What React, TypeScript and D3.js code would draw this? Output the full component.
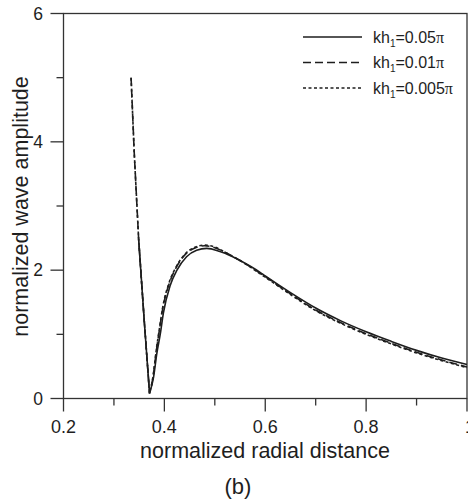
import React from "react";
import * as d3 from "d3";

const W = 468;
const H = 503;

// x tick values
const xMajorTicks = [0.2, 0.4, 0.6, 0.8, 1.0];
const xMajorLabels = ["0.2", "0.4", "0.6", "0.8", "1"];
const xMinorTicks = [0.3, 0.5, 0.7, 0.9];
const yMajorTicks = [0, 2, 4, 6];
const yMajorLabels = ["0", "2", "4", "6"];
const yMinorTicks = [1, 3, 5];

// kh1 = 0.05π (solid)
const solidX = [0.349, 0.36, 0.3706, 0.3785, 0.385, 0.392, 0.398, 0.4115, 0.425, 0.444, 0.464, 0.484, 0.51, 0.53, 0.55, 0.589, 0.6, 0.65, 0.7, 0.75, 0.8, 0.85, 0.9, 0.95, 1.0];
const solidY = [2.48, 1.22, 0.08, 0.33, 0.7, 1.01, 1.33, 1.76, 2.0, 2.21, 2.31, 2.34, 2.29, 2.23, 2.15, 1.97, 1.91, 1.65, 1.41, 1.21, 1.04, 0.89, 0.75, 0.63, 0.53];

// kh1 = 0.01π (dashed)
const dashedX = [0.334, 0.3403, 0.349, 0.36, 0.3706, 0.378, 0.384, 0.39, 0.396, 0.41, 0.424, 0.442, 0.462, 0.48, 0.5, 0.52, 0.55, 0.6, 0.65, 0.7, 0.75, 0.8, 0.85, 0.9, 0.95, 1.0];
const dashedY = [5.0, 3.82, 2.48, 1.22, 0.08, 0.36, 0.74, 1.06, 1.37, 1.8, 2.05, 2.25, 2.35, 2.38, 2.35, 2.28, 2.15, 1.9, 1.63, 1.38, 1.18, 1.01, 0.86, 0.72, 0.6, 0.49];

// kh1 = 0.005π (dotted)
const dottedX = [0.334, 0.3403, 0.349, 0.36, 0.3706, 0.378, 0.384, 0.39, 0.396, 0.41, 0.424, 0.442, 0.462, 0.48, 0.5, 0.52, 0.55, 0.6, 0.65, 0.7, 0.75, 0.8, 0.85, 0.9, 0.95, 1.0];
const dottedY = [5.0, 3.82, 2.48, 1.22, 0.08, 0.37, 0.76, 1.08, 1.39, 1.82, 2.06, 2.26, 2.36, 2.39, 2.36, 2.28, 2.15, 1.89, 1.62, 1.37, 1.17, 1.0, 0.85, 0.71, 0.59, 0.48];

const seriesLabels = ["0.05", "0.01", "0.005"];

const x = d3.scaleLinear().domain([0.2, 1.0]).range([63.5, 467]);
const y = d3.scaleLinear().domain([0, 6]).range([398.5, 13.5]);

type P = [number, number];

function buildPath(xs: number[], ys: number[]): string {
  const pts: P[] = xs.map((v, i) => [v, ys[i]]);
  let minI = 0;
  pts.forEach((p, i) => {
    if (p[1] < pts[minI][1]) minI = i;
  });
  const desc = pts.slice(0, minI + 1);
  const rise = pts.slice(minI);
  const lin = d3
    .line<P>()
    .x((d) => x(d[0]))
    .y((d) => y(d[1]))
    .curve(d3.curveLinear);
  const mono = d3
    .line<P>()
    .x((d) => x(d[0]))
    .y((d) => y(d[1]))
    .curve(d3.curveMonotoneX);
  const a = lin(desc) || "";
  const b = (mono(rise) || "").replace(/^M/, "L");
  return a + b;
}

const FONT = "Arial, 'Liberation Sans', Helvetica, sans-serif";
const INK = "#1e1e1e";
const AX = "#333";

export default function App() {
  const series = [
    { xs: solidX, ys: solidY, dash: "none", label: seriesLabels[0] },
    { xs: dashedX, ys: dashedY, dash: "8,4", label: seriesLabels[1] },
    { xs: dottedX, ys: dottedY, dash: "3,2.5", label: seriesLabels[2] },
  ];
  const x0 = x.range()[0];
  const x1 = x.range()[1];
  const y0 = y.range()[0];
  const y1 = y.range()[1];
  return (
    <svg
      width={W}
      height={H}
      style={{ position: "absolute", left: 0, top: 0, background: "#fff" }}
      fontFamily={FONT}
    >
      <rect x={0} y={0} width={W} height={H} fill="#fff" />
      {/* frame */}
      <rect x={x0} y={y1} width={x1 - x0} height={y0 - y1} fill="none" stroke={AX} strokeWidth={1.3} />
      {/* y ticks */}
      {yMajorTicks.map((t, i) => (
        <g key={"ym" + t}>
          <line x1={x0 - 13} x2={x0} y1={y(t)} y2={y(t)} stroke={AX} strokeWidth={1.3} />
          <text x={43} y={y(t) + 6} textAnchor="end" fontSize={17.5} fill={INK}>
            {yMajorLabels[i]}
          </text>
        </g>
      ))}
      {yMinorTicks.map((t) => (
        <line key={"yn" + t} x1={x0 - 7} x2={x0} y1={y(t)} y2={y(t)} stroke={AX} strokeWidth={1.3} />
      ))}
      {/* x ticks */}
      {xMajorTicks.map((t, i) => (
        <g key={"xm" + t}>
          <line x1={x(t)} x2={x(t)} y1={y0} y2={y0 + 13} stroke={AX} strokeWidth={1.3} />
          <text x={x(t) + (i === 4 ? 3 : 0)} y={433} textAnchor="middle" fontSize={18} fill={INK}>
            {xMajorLabels[i]}
          </text>
        </g>
      ))}
      {xMinorTicks.map((t) => (
        <line key={"xn" + t} x1={x(t)} x2={x(t)} y1={y0} y2={y0 + 7} stroke={AX} strokeWidth={1.3} />
      ))}
      {/* axis labels */}
      <text x={265} y={457.5} textAnchor="middle" fontSize={21.5} fill={INK}>
        normalized radial distance
      </text>
      <text
        transform={`translate(27.5,206.5) rotate(-90)`}
        textAnchor="middle"
        fontSize={21.5}
        fill={INK}
      >
        normalized wave amplitude
      </text>
      <text x={238} y={494} textAnchor="middle" fontSize={22} fill={INK}>
        (b)
      </text>
      {/* curves */}
      {series.map((s, i) => (
        <path
          key={"s" + i}
          d={buildPath(s.xs, s.ys)}
          fill="none"
          stroke={INK}
          strokeWidth={1.6}
          strokeDasharray={s.dash}
        />
      ))}
      {/* legend */}
      {series.map((s, i) => {
        const ly = 37 + i * 25.5;
        return (
          <g key={"lg" + i}>
            <line x1={303} x2={362} y1={ly} y2={ly} stroke={INK} strokeWidth={1.5} strokeDasharray={s.dash} />
            <text x={373} y={ly + 5.5} fontSize={16} fill={INK}>
              kh
              <tspan fontSize={10} dy={4}>1</tspan>
              <tspan dy={-4}>={s.label}</tspan>
              <tspan fontFamily="'Liberation Serif', 'Times New Roman', serif">π</tspan>
            </text>
          </g>
        );
      })}
    </svg>
  );
}
